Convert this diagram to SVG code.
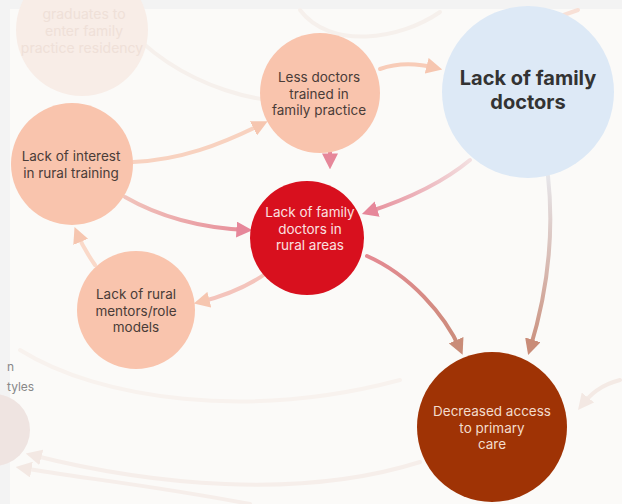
<svg xmlns="http://www.w3.org/2000/svg" width="622" height="504" viewBox="0 0 622 504">
<defs>
<style>
.t{font-family:"Inter","Open Sans","Liberation Sans",sans-serif;text-anchor:middle}
.dark{fill:#4a3c38;font-size:13.5px}
.lt{font-size:13.5px;fill:#fbe0e0}
.br{font-size:13.5px;fill:#f3dccc}
.c{fill:none;stroke-width:4;stroke-linecap:round}
</style>
<marker id="aPale" viewBox="0 0 10 10" refX="6" refY="5" markerWidth="4" markerHeight="4" orient="auto"><path d="M0,0 L10,5 L0,10 z" fill="#f6c6b0"/></marker>
<marker id="aPink" viewBox="0 0 10 10" refX="6" refY="5" markerWidth="4" markerHeight="4" orient="auto"><path d="M0,0 L10,5 L0,10 z" fill="#e6879a"/></marker>
<marker id="aBrown" viewBox="0 0 10 10" refX="6" refY="5" markerWidth="4" markerHeight="4" orient="auto"><path d="M0,0 L10,5 L0,10 z" fill="#c98c78"/></marker>
<marker id="aFaint" viewBox="0 0 10 10" refX="6" refY="5" markerWidth="4" markerHeight="4" orient="auto"><path d="M0,0 L10,5 L0,10 z" fill="#f3e8e3"/></marker>
<linearGradient id="gBlueRed" x1="470" y1="160" x2="365" y2="215" gradientUnits="userSpaceOnUse"><stop offset="0" stop-color="#f3dfe0"/><stop offset="1" stop-color="#e68b98"/></linearGradient>
<linearGradient id="gBlueDec" x1="548" y1="176" x2="528" y2="355" gradientUnits="userSpaceOnUse"><stop offset="0" stop-color="#e6e6ea"/><stop offset="1" stop-color="#c98c78"/></linearGradient>
<linearGradient id="gRedDec" x1="365" y1="255" x2="462" y2="355" gradientUnits="userSpaceOnUse"><stop offset="0" stop-color="#e58a93"/><stop offset="1" stop-color="#c98c78"/></linearGradient>
<linearGradient id="gIntRed" x1="125" y1="198" x2="250" y2="230" gradientUnits="userSpaceOnUse"><stop offset="0" stop-color="#f1c4bc"/><stop offset="1" stop-color="#e68b98"/></linearGradient>
</defs>
<rect width="622" height="504" fill="#f3f3f3"/>
<rect x="10" y="9" width="612" height="495" fill="#fbfaf8"/>

<g id="connectors">
<path class="c" d="M120,20 C180,90 270,110 330,100" stroke="#f6f0ec" stroke-width="3"/>
<path class="c" d="M300,10 C330,50 400,40 440,12" stroke="#f6f0ec" stroke-width="3"/>
<path class="c" d="M555,18 L578,10" stroke="#f8e0d6" stroke-width="3"/>
<path class="c" d="M620,380 C600,385 590,395 582,405" stroke="#f4eae5" stroke-width="3" marker-end="url(#aFaint)"/>
<path class="c" d="M420,462 C300,500 150,485 32,455" stroke="#f6eeea" stroke-width="4" marker-end="url(#aFaint)"/>
<path class="c" d="M250,504 C150,485 80,478 22,468" stroke="#f6eeea" stroke-width="4" marker-end="url(#aFaint)"/>
<path class="c" d="M20,350 C100,400 250,420 400,380" stroke="#f8f2ee" stroke-width="3"/>
<path class="c" d="M133,162 C180,160 220,145 262,124" stroke="#f8d2c0" marker-end="url(#aPale)"/>
<path class="c" d="M125,197 C165,220 205,228 246,230" stroke="url(#gIntRed)" marker-end="url(#aPink)"/>
<path class="c" d="M330,152 L330,163" stroke="#e8899a" marker-end="url(#aPink)"/>
<path class="c" d="M470,160 C440,185 405,200 368,212" stroke="url(#gBlueRed)" marker-end="url(#aPink)"/>
<path class="c" d="M268,272 C250,285 228,295 200,302" stroke="#f4c4bc" marker-end="url(#aPale)"/>
<path class="c" d="M95,265 C88,255 82,245 77,233" stroke="#fad9c9" marker-end="url(#aPale)"/>
<path class="c" d="M380,69 C400,62 420,64 436,68" stroke="#f8ccb8" marker-end="url(#aPale)"/>
<path class="c" d="M367,256 C410,275 445,315 460,349" stroke="url(#gRedDec)" marker-end="url(#aBrown)"/>
<path class="c" d="M548,176 C555,240 545,300 530,349" stroke="url(#gBlueDec)" marker-end="url(#aBrown)"/>
</g>

<g id="node-graduates">
<circle cx="82" cy="30" r="66" fill="#f8ede7"/>
<text class="t" x="84" y="19" font-size="14" fill="#efe0d8">graduates to</text>
<text class="t" x="84" y="36" font-size="14" fill="#efe0d8">enter family</text>
<text class="t" x="82" y="53" font-size="14" fill="#efe0d8">practice residency</text>
</g>

<g id="node-styles">
<circle cx="-6" cy="430" r="36" fill="#efe4e1"/>
<text x="7" y="371" font-family="Inter,'Liberation Sans',sans-serif" font-size="12" fill="#888">n</text>
<text x="7" y="391" font-family="Inter,'Liberation Sans',sans-serif" font-size="12" fill="#888">tyles</text>
</g>

<g id="node-less">
<circle cx="320" cy="93" r="60" fill="#f9c4ad"/>
<text class="t dark" x="319" y="82">Less doctors</text>
<text class="t dark" x="319" y="98.5">trained in</text>
<text class="t dark" x="319" y="115">family practice</text>
</g>

<g id="node-lackfamily">
<circle cx="528" cy="92" r="86" fill="#dde9f6"/>
<text class="t" x="528" y="85" font-size="20" font-weight="700" fill="#333">Lack of family</text>
<text class="t" x="528" y="109" font-size="20" font-weight="700" fill="#333">doctors</text>
</g>

<g id="node-interest">
<circle cx="72" cy="164" r="61" fill="#f9c4ad"/>
<text class="t dark" x="71" y="161">Lack of interest</text>
<text class="t dark" x="71" y="177.5">in rural training</text>
</g>

<g id="node-rural">
<circle cx="307" cy="238" r="57" fill="#d8101e"/>
<text class="t lt" x="310" y="217">Lack of family</text>
<text class="t lt" x="310" y="233.5">doctors in</text>
<text class="t lt" x="310" y="250">rural areas</text>
</g>

<g id="node-mentors">
<circle cx="136" cy="310" r="59" fill="#f9c4ad"/>
<text class="t dark" x="136" y="299">Lack of rural</text>
<text class="t dark" x="136" y="315.5">mentors/role</text>
<text class="t dark" x="136" y="332">models</text>
</g>

<g id="node-decreased">
<circle cx="492" cy="427" r="75" fill="#9f3305"/>
<text class="t br" x="492" y="416">Decreased access</text>
<text class="t br" x="492" y="432.5">to primary</text>
<text class="t br" x="492" y="449">care</text>
</g>
</svg>
